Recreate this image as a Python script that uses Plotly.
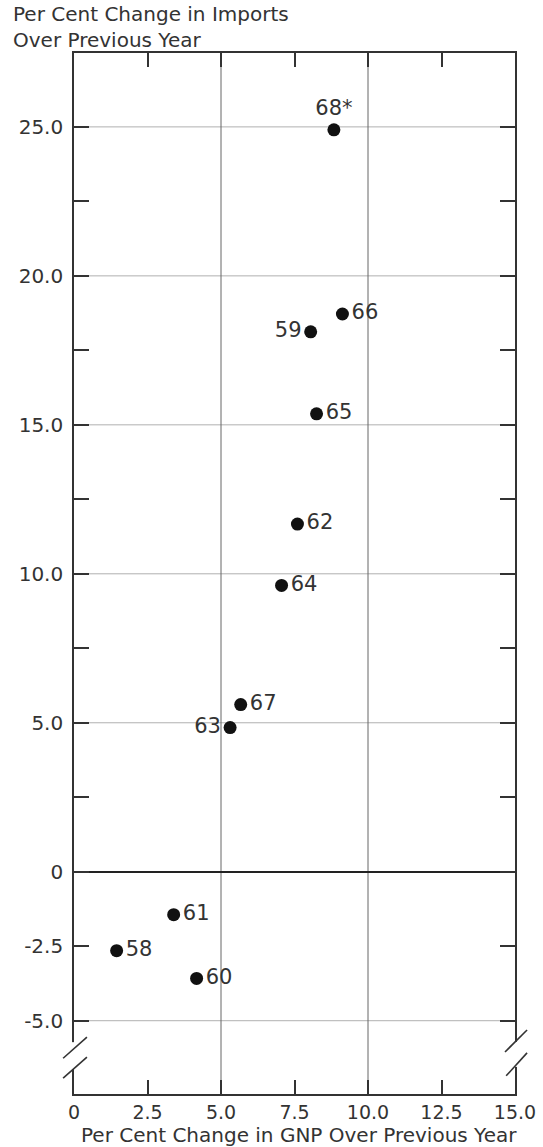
import plotly.graph_objects as go

# ---- data ----
years = ["58", "59", "60", "61", "62", "63", "64", "65", "66", "67", "68*"]
gnp_change = [1.45, 8.05, 4.17, 3.39, 7.60, 5.31, 7.06, 8.25, 9.13, 5.67, 8.84]
imports_change = [-2.65, 18.12, -3.58, -1.44, 11.67, 4.84, 9.61, 15.37, 18.72, 5.61, 24.90]
label_pos = ["middle right", "middle left", "middle right", "middle right", "middle right",
             "middle left", "middle right", "middle right", "middle right", "middle right",
             "top center"]

x_tickvals = [0, 2.5, 5, 7.5, 10, 12.5, 15]
x_ticktext = ["0", "2.5", "5.0", "7.5", "10.0", "12.5", "15.0"]
y_tickvals = [-5, -2.5, 0, 2.5, 5, 7.5, 10, 12.5, 15, 17.5, 20, 22.5, 25]
y_ticktext = ["-5.0", "-2.5", "0", "", "5.0", "", "10.0", "", "15.0", "", "20.0", "", "25.0"]
y_grid = [-5, 5, 10, 15, 20, 25]
x_grid = [5, 10]

X_RANGE = [0, 15]
Y_RANGE = [-7.46, 27.48]

FONT = "DejaVu Sans"
TXT = "#333333"

fig = go.Figure()

fig.add_trace(go.Scatter(
    x=gnp_change, y=imports_change, mode="markers+text",
    text=years, textposition=label_pos,
    textfont=dict(family=FONT, size=21, color=TXT),
    marker=dict(size=13, color="#111111"),
    cliponaxis=False, showlegend=False, hoverinfo="x+y+text",
))

for gy in y_grid:
    fig.add_hline(y=gy, line=dict(color="#b0b0b0", width=1), layer="below")
for gx in x_grid:
    fig.add_vline(x=gx, line=dict(color="#666666", width=1), layer="below")


def px(v):
    return (v - X_RANGE[0]) / (X_RANGE[1] - X_RANGE[0])


def py(v):
    return (v - Y_RANGE[0]) / (Y_RANGE[1] - Y_RANGE[0])


# axis break: white gaps in the side lines, then the double slashes
breaks = [
    dict(x=0, gap=(-6.62, -5.72), slashes=[((-0.37, -6.26), (0.44, -5.55)),
                                           ((-0.37, -6.93), (0.44, -6.22))]),
    dict(x=15, gap=(-6.55, -5.71), slashes=[((14.66, -6.05), (15.41, -5.31)),
                                            ((14.70, -6.85), (15.41, -6.08))]),
]
for b in breaks:
    fig.add_shape(type="rect", xref="paper", yref="paper",
                  x0=px(b["x"]) - 0.01, x1=px(b["x"]) + 0.01,
                  y0=py(b["gap"][0]), y1=py(b["gap"][1]),
                  fillcolor="white", line=dict(width=0), layer="above")
    for (a, c) in b["slashes"]:
        fig.add_shape(type="line", xref="paper", yref="paper",
                      x0=px(a[0]), y0=py(a[1]), x1=px(c[0]), y1=py(c[1]),
                      line=dict(color="#333333", width=1.6), layer="above")

fig.add_annotation(
    text="Per Cent Change in Imports<br>Over Previous Year",
    xref="paper", yref="paper", x=0, y=1, xanchor="left", yanchor="bottom",
    xshift=-63, yshift=-1, align="left", showarrow=False,
    font=dict(family=FONT, size=20, color=TXT),
)
fig.add_annotation(
    text="Per Cent Change in GNP Over Previous Year",
    xref="paper", yref="paper", x=0.5, y=0, xanchor="center", yanchor="middle",
    xshift=4, yshift=-41, showarrow=False,
    font=dict(family=FONT, size=20, color=TXT),
)

fig.update_xaxes(
    range=X_RANGE, tickvals=x_tickvals, ticktext=x_ticktext,
    ticks="inside", ticklen=14, tickwidth=1.5, tickcolor="#333333",
    showline=True, linecolor="#333333", linewidth=1.6, mirror="ticks",
    showgrid=False, zeroline=False, automargin=False, ticklabelstandoff=0,
    tickfont=dict(family=FONT, size=19, color=TXT),
)
fig.update_yaxes(
    range=Y_RANGE, tickvals=y_tickvals, ticktext=y_ticktext,
    ticks="inside", ticklen=15, tickwidth=1.5, tickcolor="#333333",
    showline=True, linecolor="#333333", linewidth=1.6, mirror="ticks",
    showgrid=False, zeroline=True, zerolinecolor="#222222", zerolinewidth=2.2,
    automargin=False, ticklabelstandoff=5,
    tickfont=dict(family=FONT, size=20, color=TXT),
)

fig.update_layout(
    width=543, height=1147,
    margin=dict(l=74, r=28, t=53, b=53),
    plot_bgcolor="white", paper_bgcolor="white",
    font=dict(family=FONT, color=TXT),
)

fig.write_html("out.html",
               config={"displayModeBar": False},
               post_script="document.body.style.margin='0';document.body.style.overflow='hidden';")
